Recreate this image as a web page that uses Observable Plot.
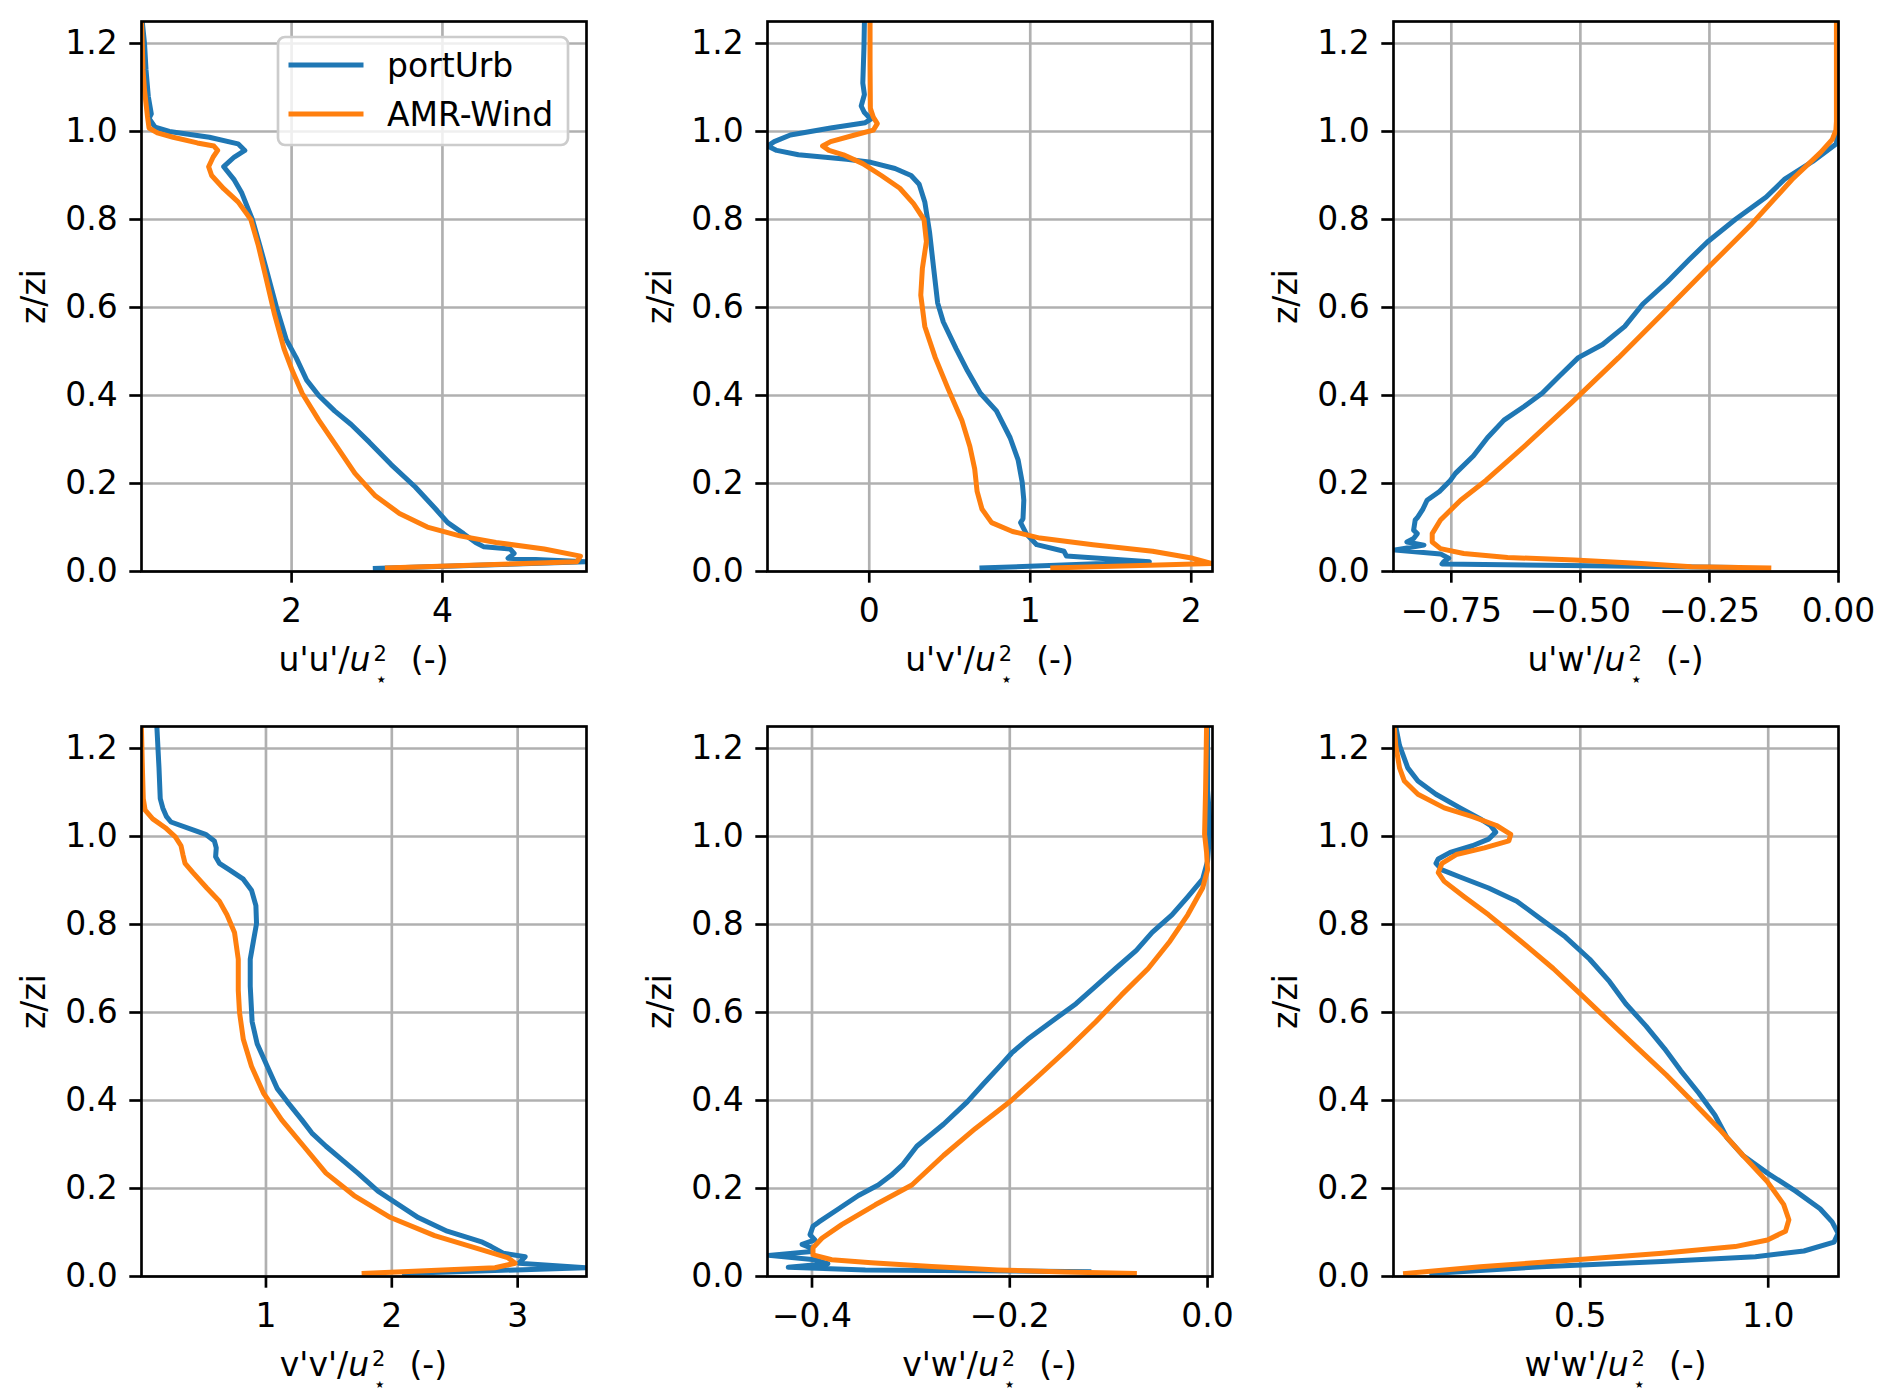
<!DOCTYPE html>
<html><head><meta charset="utf-8">
<script src="https://cdn.jsdelivr.net/npm/d3@7"></script>
<script src="https://cdn.jsdelivr.net/npm/@observablehq/plot@0.6"></script>
<style>
body{margin:0;background:#fff;}
#fig{position:relative;width:1892px;height:1400px;overflow:hidden;background:#fff;}
.cell{position:absolute;}
.cell svg{display:block;}
</style></head><body><div id="fig"></div>
<script>
// ---- series names / colours ----
const seriesNames = ["portUrb", "AMR-Wind"];
const seriesColors = ["#1f77b4", "#ff7f0e"];

// ---- y ticks (z/zi) ----
const zTicks = [0, 0.2, 0.4, 0.6, 0.8, 1.0, 1.2];
const zDomain = [0, 1.25];

// ---- data: [value, z/zi] pairs, top to bottom ----
const uuPortUrb = [[0.02,1.25],[0.05,1.2],[0.07,1.14],[0.1,1.08],[0.14,1.04],[0.11,1.03],[0.19,1.01],[0.38,1.0],[0.91,0.987],[1.29,0.972],[1.38,0.957],[1.24,0.942],[1.10,0.92],[1.24,0.89],[1.34,0.86],[1.48,0.80],[1.58,0.74],[1.66,0.69],[1.80,0.60],[1.93,0.527],[2.06,0.486],[2.20,0.435],[2.36,0.40],[2.57,0.365],[2.79,0.334],[3.03,0.294],[3.32,0.243],[3.64,0.192],[3.91,0.142],[4.07,0.111],[4.28,0.086],[4.44,0.066],[4.55,0.056],[4.90,0.051],[4.95,0.041],[4.87,0.030],[5.91,0.022],[3.11,0.007]];
const uuAMRWind = [[0.01,1.25],[0.02,1.2],[0.03,1.14],[0.05,1.094],[0.09,1.033],[0.11,1.008],[0.22,0.997],[0.43,0.987],[0.75,0.974],[0.97,0.967],[1.02,0.957],[0.96,0.942],[0.90,0.92],[0.94,0.90],[1.10,0.87],[1.29,0.84],[1.46,0.80],[1.56,0.74],[1.66,0.668],[1.77,0.587],[1.90,0.506],[2.01,0.456],[2.14,0.405],[2.36,0.344],[2.60,0.284],[2.84,0.223],[3.11,0.172],[3.43,0.132],[3.80,0.101],[4.23,0.081],[4.71,0.066],[5.35,0.051],[5.83,0.035],[5.78,0.022],[3.27,0.008]];

const uvPortUrb = [[-0.03,1.25],[-0.033,1.19],[-0.04,1.11],[-0.03,1.084],[-0.05,1.058],[-0.03,1.043],[0.01,1.028],[-0.025,1.02],[-0.24,1.008],[-0.49,0.992],[-0.59,0.977],[-0.63,0.967],[-0.575,0.957],[-0.44,0.947],[-0.14,0.937],[0.01,0.93],[0.16,0.916],[0.26,0.90],[0.31,0.88],[0.345,0.84],[0.375,0.77],[0.40,0.689],[0.425,0.61],[0.46,0.567],[0.54,0.506],[0.61,0.456],[0.69,0.405],[0.79,0.365],[0.875,0.304],[0.925,0.253],[0.95,0.203],[0.96,0.162],[0.955,0.12],[0.94,0.111],[0.975,0.086],[1.04,0.061],[1.21,0.046],[1.225,0.035],[1.74,0.022],[0.70,0.008]];
const uvAMRWind = [[0.005,1.25],[0.005,1.15],[0.007,1.053],[0.025,1.033],[0.05,1.018],[0.025,1.003],[-0.09,0.992],[-0.24,0.977],[-0.29,0.967],[-0.25,0.957],[-0.16,0.947],[-0.04,0.927],[0.075,0.90],[0.19,0.871],[0.275,0.836],[0.34,0.80],[0.355,0.75],[0.33,0.689],[0.32,0.628],[0.345,0.557],[0.41,0.486],[0.49,0.415],[0.575,0.344],[0.625,0.284],[0.655,0.233],[0.67,0.182],[0.70,0.142],[0.76,0.111],[0.89,0.091],[1.06,0.076],[1.39,0.061],[1.76,0.046],[2.01,0.030],[2.13,0.018],[1.14,0.008]];

const uwPortUrb = [[-0.002,1.25],[-0.002,1.0],[-0.004,0.972],[-0.05,0.932],[-0.105,0.891],[-0.14,0.851],[-0.20,0.80],[-0.254,0.749],[-0.289,0.709],[-0.332,0.658],[-0.379,0.608],[-0.414,0.557],[-0.457,0.516],[-0.504,0.486],[-0.539,0.446],[-0.574,0.405],[-0.609,0.375],[-0.648,0.344],[-0.68,0.304],[-0.707,0.263],[-0.742,0.223],[-0.752,0.207],[-0.773,0.182],[-0.797,0.162],[-0.805,0.142],[-0.816,0.122],[-0.82,0.117],[-0.823,0.094],[-0.816,0.086],[-0.823,0.075],[-0.836,0.067],[-0.803,0.06],[-0.859,0.049],[-0.771,0.04],[-0.755,0.03],[-0.765,0.022],[-0.768,0.017],[-0.2,0.009]];
const uwAMRWind = [[-0.004,1.25],[-0.004,1.023],[-0.005,1.003],[-0.012,0.982],[-0.035,0.952],[-0.09,0.891],[-0.168,0.79],[-0.254,0.689],[-0.34,0.587],[-0.426,0.486],[-0.516,0.385],[-0.609,0.284],[-0.683,0.207],[-0.732,0.162],[-0.771,0.117],[-0.787,0.086],[-0.787,0.067],[-0.771,0.052],[-0.726,0.041],[-0.641,0.032],[-0.512,0.026],[-0.382,0.018],[-0.285,0.011],[-0.135,0.008]];

const vvPortUrb = [[0.133,1.25],[0.15,1.156],[0.16,1.086],[0.18,1.065],[0.21,1.045],[0.245,1.033],[0.42,1.015],[0.52,1.005],[0.59,0.99],[0.605,0.974],[0.60,0.954],[0.63,0.939],[0.71,0.924],[0.82,0.903],[0.885,0.878],[0.92,0.843],[0.925,0.802],[0.90,0.762],[0.875,0.721],[0.875,0.66],[0.89,0.579],[0.93,0.529],[1.01,0.478],[1.09,0.427],[1.17,0.397],[1.285,0.356],[1.365,0.326],[1.477,0.296],[1.605,0.265],[1.73,0.235],[1.89,0.194],[2.05,0.164],[2.21,0.134],[2.44,0.103],[2.72,0.078],[2.79,0.068],[2.885,0.053],[3.06,0.045],[3.01,0.030],[3.55,0.020],[2.1,0.007]];
const vvAMRWind = [[0.01,1.25],[0.018,1.156],[0.025,1.086],[0.04,1.06],[0.10,1.04],[0.20,1.02],[0.28,0.999],[0.325,0.979],[0.34,0.959],[0.357,0.939],[0.42,0.918],[0.53,0.883],[0.63,0.853],[0.69,0.822],[0.75,0.782],[0.78,0.721],[0.78,0.65],[0.79,0.60],[0.82,0.539],[0.885,0.478],[0.98,0.417],[1.125,0.356],[1.30,0.296],[1.477,0.235],[1.70,0.184],[1.99,0.134],[2.34,0.093],[2.69,0.063],[2.92,0.043],[2.98,0.030],[2.82,0.020],[1.78,0.007]];

const vwPortUrb = [[0.0,1.25],[0.0,1.105],[0.002,1.045],[0.002,1.005],[0.0,0.944],[-0.005,0.903],[-0.02,0.863],[-0.036,0.822],[-0.056,0.782],[-0.072,0.741],[-0.093,0.70],[-0.113,0.66],[-0.133,0.62],[-0.158,0.579],[-0.182,0.539],[-0.198,0.508],[-0.21,0.478],[-0.227,0.437],[-0.243,0.397],[-0.267,0.346],[-0.294,0.296],[-0.308,0.255],[-0.32,0.23],[-0.333,0.208],[-0.353,0.184],[-0.367,0.163],[-0.373,0.154],[-0.393,0.124],[-0.399,0.114],[-0.402,0.095],[-0.397,0.083],[-0.41,0.073],[-0.40,0.064],[-0.40,0.057],[-0.444,0.048],[-0.397,0.038],[-0.384,0.029],[-0.424,0.021],[-0.346,0.015],[-0.12,0.011]];
const vwAMRWind = [[-0.001,1.25],[-0.002,1.105],[-0.003,1.005],[-0.001,0.964],[0.0,0.924],[-0.005,0.883],[-0.02,0.822],[-0.038,0.762],[-0.06,0.70],[-0.087,0.64],[-0.113,0.579],[-0.141,0.518],[-0.17,0.458],[-0.20,0.397],[-0.235,0.336],[-0.267,0.275],[-0.299,0.208],[-0.336,0.163],[-0.37,0.118],[-0.39,0.087],[-0.399,0.065],[-0.399,0.049],[-0.38,0.038],[-0.34,0.031],[-0.279,0.023],[-0.212,0.015],[-0.144,0.010],[-0.074,0.007]];

const wwPortUrb = [[0.009,1.25],[0.019,1.207],[0.041,1.156],[0.068,1.126],[0.116,1.096],[0.18,1.065],[0.234,1.04],[0.261,1.025],[0.275,1.01],[0.256,0.994],[0.213,0.979],[0.154,0.964],[0.122,0.949],[0.116,0.939],[0.132,0.924],[0.18,0.908],[0.256,0.883],[0.331,0.853],[0.396,0.812],[0.46,0.772],[0.525,0.721],[0.578,0.67],[0.621,0.62],[0.675,0.569],[0.724,0.518],[0.767,0.468],[0.815,0.417],[0.858,0.367],[0.89,0.316],[0.933,0.275],[0.998,0.235],[1.073,0.194],[1.138,0.154],[1.17,0.124],[1.186,0.098],[1.175,0.078],[1.095,0.058],[0.966,0.045],[0.718,0.034],[0.396,0.022],[0.105,0.007]];
const wwAMRWind = [[0.005,1.25],[0.009,1.207],[0.019,1.156],[0.032,1.126],[0.068,1.096],[0.138,1.065],[0.213,1.045],[0.277,1.025],[0.315,1.005],[0.31,0.99],[0.245,0.974],[0.17,0.959],[0.132,0.939],[0.122,0.918],[0.138,0.898],[0.191,0.863],[0.256,0.822],[0.342,0.762],[0.428,0.70],[0.503,0.64],[0.578,0.579],[0.654,0.518],[0.729,0.458],[0.799,0.397],[0.869,0.336],[0.933,0.275],[0.998,0.215],[1.041,0.164],[1.055,0.129],[1.046,0.103],[0.998,0.083],[0.912,0.068],[0.718,0.053],[0.471,0.037],[0.234,0.022],[0.035,0.007]];

// ---- x axes: domains, tick values, label prefixes ----
const xDomains = [[0.01,5.91],[-0.632,2.132],[-0.862,0.0],[0.011,3.547],[-0.445,0.005],[0.003,1.187]];
const xTicks = [[2,4],[0,1,2],[-0.75,-0.5,-0.25,0],[1,2,3],[-0.4,-0.2,0],[0.5,1.0]];
const xTickFormats = ["d","d",".2f","d",".1f",".1f"];
const xLabelPrefix = ["u'u'/","u'v'/","u'w'/","v'v'/","v'w'/","w'w'/"];
const portUrbSeries = [uuPortUrb, uvPortUrb, uwPortUrb, vvPortUrb, vwPortUrb, wwPortUrb];
const amrSeries = [uuAMRWind, uvAMRWind, uwAMRWind, vvAMRWind, vwAMRWind, wwAMRWind];

const W = 626, H = 705, ML = 141, MR = 40, MT = 21, MB = 134;
const FS = 33, LW = 5, AW = 2.67;
const fig = document.getElementById("fig");

for (let i = 0; i < 6; i++) {
  const col = i % 3, row = Math.floor(i / 3);
  const fmt = d3.format(xTickFormats[i]);
  const chart = Plot.plot({
    width: W, height: H,
    marginLeft: ML, marginRight: MR, marginTop: MT, marginBottom: MB,
    style: {fontFamily: "'DejaVu Sans', sans-serif", fontSize: FS + "px", background: "transparent", color: "#000", overflow: "visible"},
    x: {domain: xDomains[i]},
    y: {domain: zDomain},
    marks: [
      Plot.gridX({ticks: xTicks[i], stroke: "#b0b0b0", strokeOpacity: 1, strokeWidth: AW}),
      Plot.gridY({ticks: zTicks, stroke: "#b0b0b0", strokeOpacity: 1, strokeWidth: AW}),
      Plot.line(portUrbSeries[i], {x: d => d[0], y: d => d[1], stroke: seriesColors[0], strokeWidth: LW, strokeLinejoin: "round", strokeLinecap: "square", clip: true}),
      Plot.line(amrSeries[i], {x: d => d[0], y: d => d[1], stroke: seriesColors[1], strokeWidth: LW, strokeLinejoin: "round", strokeLinecap: "square", clip: true}),
      Plot.frame({stroke: "#000", strokeWidth: AW}),
      Plot.axisX({ticks: xTicks[i], tickFormat: fmt, tickSize: 11.7, tickPadding: 15, strokeWidth: AW, label: null, fontSize: FS}),
      Plot.axisY({ticks: zTicks, tickFormat: d3.format(".1f"), tickSize: 11.7, tickPadding: 12, strokeWidth: AW, label: null, fontSize: FS}),
      Plot.text(["z/zi"], {text: d => d, frameAnchor: "left", textAnchor: "middle", lineAnchor: "middle", dx: -107, rotate: -90, fontSize: FS, fill: "#000"})
    ]
  });
  const cell = document.createElement("div");
  cell.className = "cell";
  cell.style.left = (col * W) + "px";
  cell.style.top = (row * H) + "px";
  cell.appendChild(chart);
  fig.appendChild(cell);

  const svg = d3.select(chart);
  const cx = ML + (W - ML - MR) / 2;
  const base = H - MB + 100;
  const t = svg.append("text")
    .attr("x", cx).attr("y", base)
    .attr("text-anchor", "middle")
    .attr("font-family", "'DejaVu Sans', sans-serif")
    .attr("font-size", FS).attr("fill", "#000");
  t.append("tspan").text(xLabelPrefix[i]);
  t.append("tspan").attr("font-style", "italic").text("u");
  t.append("tspan").attr("font-size", 21).attr("dx", 3).attr("dy", -10).text("2");
  t.append("tspan").attr("dx", 24).attr("dy", 10).text("(-)");
  // subscript star under the superscript
  let sx = cx + 20;
  try {
    const idx = xLabelPrefix[i].length + 1;
    const ext = t.node().getExtentOfChar(idx);
    sx = ext.x + ext.width / 2 + 1;
  } catch (e) {}
  svg.append("text")
    .attr("x", sx).attr("y", base + 15)
    .attr("text-anchor", "middle")
    .attr("font-family", "'DejaVu Sans', sans-serif")
    .attr("font-size", 20).attr("fill", "#000")
    .text("\u22C6");

  if (i === 0) {
    const g = svg.append("g");
    g.append("rect").attr("x", 278).attr("y", 37).attr("width", 290).attr("height", 108)
      .attr("rx", 7).attr("fill", "#fff").attr("fill-opacity", 0.8)
      .attr("stroke", "#cccccc").attr("stroke-width", AW);
    seriesNames.forEach((name, k) => {
      const y = 65 + k * 49;
      g.append("line").attr("x1", 291).attr("x2", 361).attr("y1", y).attr("y2", y)
        .attr("stroke", seriesColors[k]).attr("stroke-width", LW).attr("stroke-linecap", "square");
      g.append("text").attr("x", 387).attr("y", y).attr("dy", "0.35em")
        .attr("text-anchor", "start")
        .attr("font-family", "'DejaVu Sans', sans-serif").attr("font-size", FS).attr("fill", "#000")
        .text(name);
    });
  }
}
</script></body></html>
